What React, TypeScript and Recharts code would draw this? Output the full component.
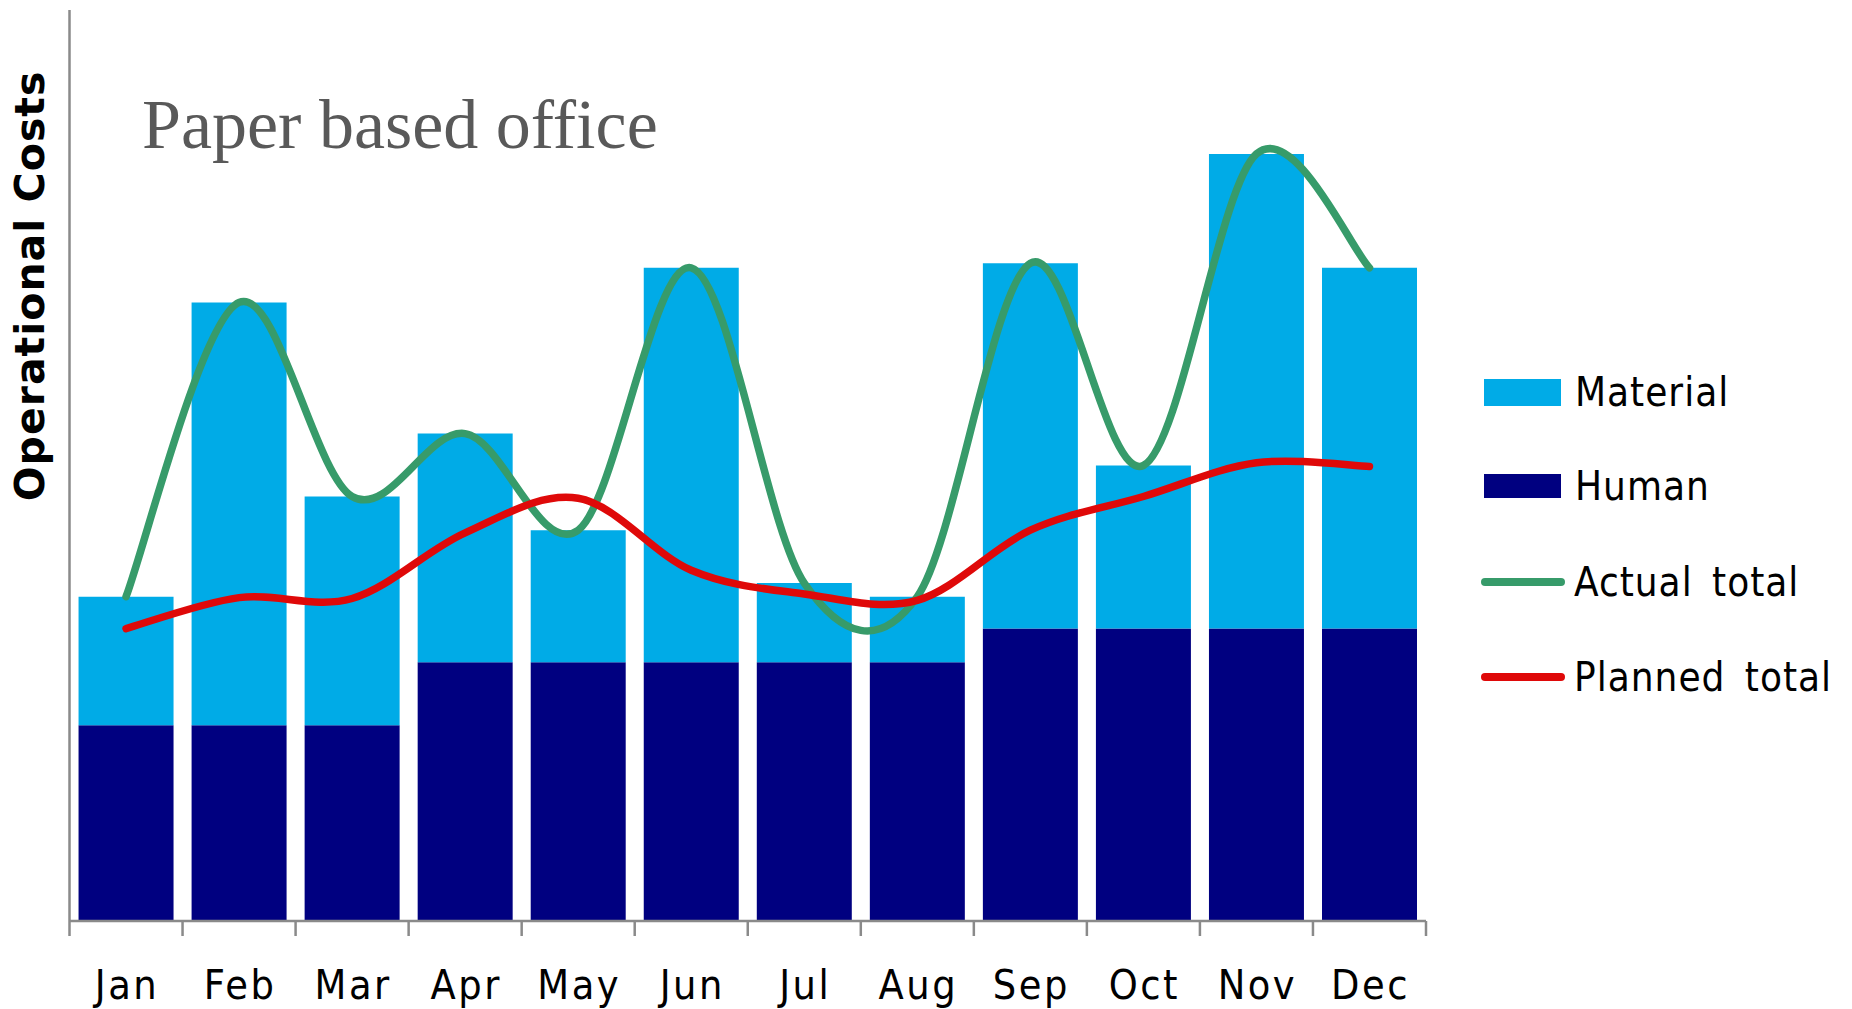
import React from "react";
import { Bar, ComposedChart, Legend, Line, XAxis, YAxis } from "recharts";

// values, y domain 0..100
const months = ["Jan", "Feb", "Mar", "Apr", "May", "Jun", "Jul", "Aug", "Sep", "Oct", "Nov", "Dec"];
const human = [21.5, 21.5, 21.5, 28.4, 28.4, 28.4, 28.4, 28.4, 32.1, 32.1, 32.1, 32.1];
const material = [14.1, 46.4, 25.1, 25.1, 14.5, 43.3, 8.7, 7.2, 40.1, 17.9, 52.1, 39.6];
const actualTotal = [35.6, 67.9, 46.6, 53.5, 42.9, 71.7, 37.1, 35.6, 72.2, 50.0, 84.2, 71.7];
const plannedTotal = [32.1, 35.5, 35.4, 42.6, 46.4, 38.5, 35.9, 35.2, 42.9, 46.6, 50.3, 49.9];

const rows = months.map((m, i) => ({
  month: m,
  human: human[i],
  material: material[i],
  actual: actualTotal[i],
  planned: plannedTotal[i],
}));

const SANS = "'DejaVu Sans Condensed', 'DejaVu Sans', sans-serif";
const AXIS = "#8a8a8a";
const C_MATERIAL = "#00abe7";
const C_HUMAN = "#000080";
const C_ACTUAL = "#379b6a";
const C_PLANNED = "#df0909";

// Excel-like smoothed line (uniform Catmull-Rom as cubic beziers)
function catmullRom(context: any) {
  let pts: [number, number][] = [];
  return {
    areaStart() {},
    areaEnd() {},
    lineStart() {
      pts = [];
    },
    lineEnd() {
      const n = pts.length;
      if (!n) return;
      context.moveTo(pts[0][0], pts[0][1]);
      for (let i = 0; i < n - 1; i++) {
        const p0 = pts[Math.max(i - 1, 0)];
        const p1 = pts[i];
        const p2 = pts[i + 1];
        const p3 = pts[Math.min(i + 2, n - 1)];
        context.bezierCurveTo(
          p1[0] + (p2[0] - p0[0]) / 6,
          p1[1] + (p2[1] - p0[1]) / 6,
          p2[0] - (p3[0] - p1[0]) / 6,
          p2[1] - (p3[1] - p1[1]) / 6,
          p2[0],
          p2[1]
        );
      }
    },
    point(x: number, y: number) {
      pts.push([+x, +y]);
    },
  };
}

// label at band centre, tick marks on band edges
function MonthTick(props: any) {
  const { x, y, payload, index, visibleTicksCount } = props;
  const off = payload.offset ?? 0;
  const last = index === visibleTicksCount - 1;
  return (
    <g>
      <line x1={x - off} x2={x - off} y1={y} y2={y + 15} stroke={AXIS} strokeWidth={2.5} />
      {last && <line x1={x + off} x2={x + off} y1={y} y2={y + 15} stroke={AXIS} strokeWidth={2.5} />}
      <text x={x + 1} y={y + 78} textAnchor="middle" fill="#000" fontFamily={SANS} fontSize={41} letterSpacing={2.5}>
        {payload.value}
      </text>
    </g>
  );
}

const legendItems = [
  { name: "Material", color: C_MATERIAL, kind: "rect", cy: 392, h: 27 },
  { name: "Human", color: C_HUMAN, kind: "rect", cy: 486, h: 24 },
  { name: "Actual total", color: C_ACTUAL, kind: "line", cy: 582, h: 7.5 },
  { name: "Planned total", color: C_PLANNED, kind: "line", cy: 677, h: 7.5 },
];

function LegendBox() {
  return (
    <div style={{ position: "relative", width: 360, height: 360 }}>
      {legendItems.map((it) => (
        <div
          key={it.name}
          style={{
            position: "absolute",
            left: 0,
            top: it.cy - 360 - 25,
            height: 50,
            display: "flex",
            alignItems: "center",
            whiteSpace: "nowrap",
          }}
        >
          <span
            style={{
              display: "inline-block",
              width: it.kind === "rect" ? 77 : 84,
              height: it.h,
              marginLeft: it.kind === "rect" ? 0 : -3,
              background: it.color,
              borderRadius: it.kind === "rect" ? 0 : 4,
            }}
          />
          <span
            style={{
              marginLeft: it.kind === "rect" ? 14 : 9,
              fontFamily: SANS,
              fontSize: 40,
              letterSpacing: 1,
              wordSpacing: 7,
              color: "#000",
            }}
          >
            {it.name}
          </span>
        </div>
      ))}
    </div>
  );
}

export default function App() {
  return (
    <div style={{ position: "absolute", left: 0, top: 0, width: 1852, height: 1009, background: "#fff" }}>
      <ComposedChart
        width={1852}
        height={1009}
        data={rows}
        margin={{ top: 10, right: 426, bottom: 0, left: 0 }}
        barCategoryGap="8%"
      >
        <XAxis
          dataKey="month"
          interval={0}
          height={88}
          tickSize={0}
          tickMargin={0}
          tickLine={false}
          axisLine={{ stroke: AXIS, strokeWidth: 2.5 }}
          tick={<MonthTick />}
        />
        <YAxis
          width={69.5}
          domain={[0, 100]}
          tick={false}
          tickLine={false}
          axisLine={{ stroke: AXIS, strokeWidth: 2.5 }}
        />
        <Bar dataKey="human" stackId="a" fill={C_HUMAN} isAnimationActive={false} />
        <Bar dataKey="material" stackId="a" fill={C_MATERIAL} isAnimationActive={false} />
        <Line
          dataKey="actual"
          type={catmullRom as any}
          stroke={C_ACTUAL}
          strokeWidth={7.5}
          strokeLinecap="round"
          strokeLinejoin="round"
          dot={false}
          activeDot={false}
          isAnimationActive={false}
        />
        <Line
          dataKey="planned"
          type={catmullRom as any}
          stroke={C_PLANNED}
          strokeWidth={7.5}
          strokeLinecap="round"
          strokeLinejoin="round"
          dot={false}
          activeDot={false}
          isAnimationActive={false}
        />
        <Legend
          layout="vertical"
          align="center"
          verticalAlign="middle"
          content={() => <LegendBox />}
          wrapperStyle={{ position: "absolute", left: 1484, top: 360, width: 360, height: 360 }}
        />
      </ComposedChart>
      <svg
        width={1852}
        height={1009}
        style={{ position: "absolute", left: 0, top: 0, pointerEvents: "none" }}
      >
        <text x={142} y={148} fontFamily="'Liberation Serif', serif" fontSize={70} fill="#595959">
          Paper based office
        </text>
        <text
          transform="translate(44,286) rotate(-90)"
          textAnchor="middle"
          fontFamily="'DejaVu Sans', sans-serif"
          fontWeight="bold"
          fontSize={41}
          letterSpacing={1}
          fill="#000"
        >
          Operational Costs
        </text>
      </svg>
    </div>
  );
}
